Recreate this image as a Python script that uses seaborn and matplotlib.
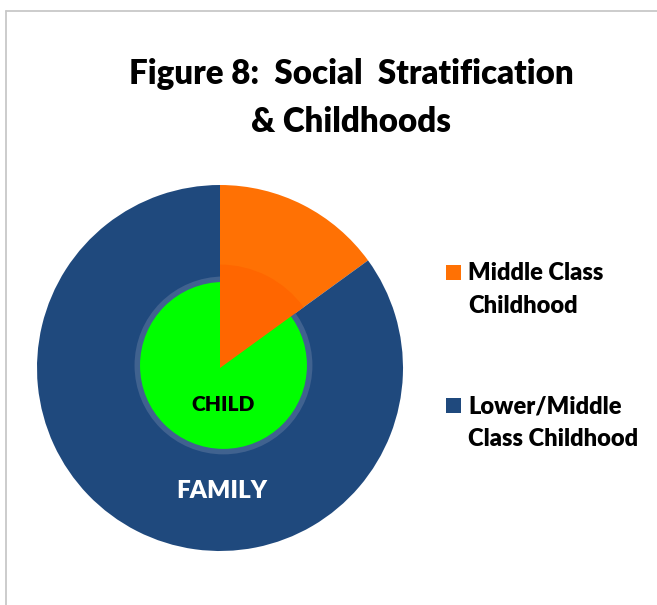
import matplotlib
matplotlib.use("Agg")
import matplotlib.pyplot as plt
import seaborn as sns
from matplotlib.patches import Circle, Rectangle
from matplotlib.lines import Line2D
from matplotlib.legend_handler import HandlerPatch

# ---- data ----
categories = ["Middle Class\nChildhood", "Lower/Middle\nClass Childhood"]
shares = [15, 85]
ring_labels = ["CHILD", "FAMILY"]
title_text = "Figure 8:  Social  Stratification\n& Childhoods"

# ---- style ----
outer_colors = ["#FF7104", "#1F497D"]
inner_orange = "#FF6600"
green = "#00FF00"
ring_color = "#40628F"

sns.set_theme(style="white")
plt.rcParams['font.family'] = ['Lato', 'DejaVu Sans']
plt.rcParams['text.color'] = 'black'

W, H = 657, 605
fig = plt.figure(figsize=(W / 100, H / 100), dpi=100)
fig.patch.set_facecolor("white")

# chart-area border (top and left visible)
fig.add_artist(Line2D([5.5 / W, 5.5 / W], [0, 1 - 10.5 / H], transform=fig.transFigure,
                      color="#C8C8C8", lw=1.3))
fig.add_artist(Line2D([5.5 / W, 1], [1 - 10.5 / H, 1 - 10.5 / H], transform=fig.transFigure,
                      color="#C8C8C8", lw=1.3))

# pie axes: centre (220,368) px, radius 183 px
R = 183
ax = fig.add_axes([(220 - R) / W, (H - 368 - R) / H, 2 * R / W, 2 * R / H])

wedges, _ = ax.pie(shares, colors=outer_colors, startangle=90, counterclock=False,
                   radius=1.0, wedgeprops=dict(linewidth=0))

cx, cy = 0.019, 0.014
ax.add_patch(Circle((cx, cy), 0.486, color=ring_color, lw=0, zorder=3))
ax.add_patch(Circle((cx, cy), 0.456, color=green, lw=0, zorder=4))

inner, _ = ax.pie(shares, colors=[inner_orange, "none"], startangle=90, counterclock=False,
                  radius=0.565, wedgeprops=dict(linewidth=0))
for w in inner:
    w.set_zorder(5)

ax.set_xlim(-1, 1)
ax.set_ylim(-1, 1)
ax.set_aspect("equal")
ax.axis("off")

ax.text(0.019, -0.235, ring_labels[0], ha="center", va="baseline", fontsize=15,
        fontweight="heavy", color="black", zorder=6)
ax.text(0.011, -0.710, ring_labels[1], ha="center", va="baseline", fontsize=17.5,
        fontweight="heavy", color="white", zorder=6)

fig.suptitle(title_text, x=351 / W, y=1 - 58 / H, ha="center", va="top",
             fontsize=23.8, fontweight="heavy", color="black", linespacing=1.6)

# legend: square aligned with first line of each two-line label
SQ = 15 * 0.72  # points
FIRST_LINE_UP = 19 * 0.72


def square(legend, orig_handle, xdescent, ydescent, width, height, fontsize):
    return Rectangle((0, FIRST_LINE_UP), SQ, SQ)


leg = fig.legend(wedges, categories, loc="upper left",
                 bbox_to_anchor=(446 / W, 1 - 262 / H), frameon=False,
                 prop=dict(size=17, weight="heavy"), handlelength=SQ / 17,
                 handletextpad=7 * 0.72 / 17, labelspacing=3.3, borderpad=0,
                 borderaxespad=0,
                 handler_map={w: HandlerPatch(patch_func=square) for w in wedges})
for t in leg.get_texts():
    t.set_linespacing(1.62)
    t.set_color("black")

fig.savefig("out.png", dpi=100, facecolor="white")
